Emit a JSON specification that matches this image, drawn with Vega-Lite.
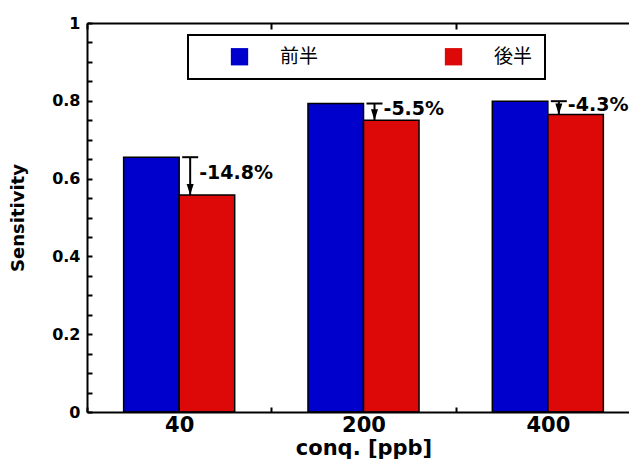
{
  "$schema": "https://vega.github.io/schema/vega-lite/v6.json",
  "width": 542,
  "height": 389,
  "autosize": "none",
  "padding": {"left": 87, "top": 23, "right": 0, "bottom": 50},
  "background": "white",
  "config": {"view": {"stroke": null}, "font": "DejaVu Sans", "legend": {"strokeWidth": 2}},
  "datasets": {
    "bars": [
      {"conc": "40", "series": "前半", "value": 0.655},
      {"conc": "40", "series": "後半", "value": 0.558},
      {"conc": "200", "series": "前半", "value": 0.793},
      {"conc": "200", "series": "後半", "value": 0.750},
      {"conc": "400", "series": "前半", "value": 0.799},
      {"conc": "400", "series": "後半", "value": 0.765}
    ],
    "notes": [
      {"conc": "40", "from": 0.655, "to": 0.558, "label": "-14.8%"},
      {"conc": "200", "from": 0.793, "to": 0.750, "label": "-5.5%"},
      {"conc": "400", "from": 0.799, "to": 0.765, "label": "-4.3%"}
    ]
  },
  "resolve": {"axis": {"x": "independent", "y": "independent"}},
  "layer": [
    {
      "data": {"name": "bars"},
      "mark": {"type": "bar", "stroke": "black", "strokeWidth": 1.5},
      "encoding": {
        "x": {
          "field": "conc", "type": "nominal",
          "scale": {"domain": ["40", "200", "400"], "range": [0, 553], "paddingInner": 0, "paddingOuter": 0},
          "axis": {
            "orient": "bottom", "tickBand": "extent", "tickSize": -5, "tickWidth": 2, "tickColor": "black",
            "domainWidth": 2, "domainColor": "black", "labelAngle": 0,
            "labelFont": "DejaVu Sans", "labelFontWeight": "bold", "labelFontSize": 21, "labelColor": "black",
            "labelPadding": 7, "title": "conq. [ppb]", "titleFont": "DejaVu Sans", "titleFontWeight": "bold",
            "titleFontSize": 21, "titleColor": "black", "titlePadding": 2, "zindex": 1
          }
        },
        "xOffset": {
          "field": "series", "type": "nominal",
          "scale": {"domain": ["前半", "後半"], "paddingInner": 0, "paddingOuter": 0.66}
        },
        "y": {
          "field": "value", "type": "quantitative",
          "scale": {"domain": [0, 1], "nice": false, "zero": true},
          "axis": {
            "orient": "left",
            "values": [0, 0.05, 0.1, 0.15, 0.2, 0.25, 0.3, 0.35, 0.4, 0.45, 0.5, 0.55, 0.6, 0.65, 0.7, 0.75, 0.8, 0.85, 0.9, 0.95, 1],
            "format": ".2~f",
            "labelExpr": "(datum.value * 5) % 1 < 0.01 || (datum.value * 5) % 1 > 0.99 ? datum.label : ''",
            "tickSize": -5, "tickWidth": 2, "tickColor": "black", "domain": true, "domainWidth": 2, "domainColor": "black",
            "grid": false, "labelFont": "DejaVu Sans", "labelFontWeight": "bold", "labelFontSize": 16,
            "labelColor": "black", "labelPadding": 12,
            "title": "Sensitivity", "titleFont": "DejaVu Sans", "titleFontWeight": "bold", "titleFontSize": 18,
            "titleColor": "black", "titlePadding": 24, "zindex": 1
          }
        },
        "color": {
          "field": "series", "type": "nominal",
          "scale": {"domain": ["前半", "後半"], "range": ["#0000cc", "#dd0808"]},
          "legend": {
            "orient": "none", "legendX": 101, "legendY": 12, "direction": "horizontal",
            "title": " ", "titleOrient": "left", "titleFontSize": 1, "titlePadding": 30,
            "symbolType": "square", "symbolSize": 300, "symbolStrokeWidth": 0, "symbolOpacity": 1,
            "labelFont": "Noto Sans CJK JP", "labelFontSize": 19, "labelOffset": 31,
            "columnPadding": 125, "padding": 12, "strokeColor": "black",
            "encode": {
              "legend": {"update": {"stroke": {"value": "black"}, "strokeWidth": {"value": 2}}},
              "labels": {"update": {"fill": {"signal": "datum.label === '前半' ? '#1a1acc' : '#dd1a1a'"}}}
            }
          }
        }
      }
    },
    {
      "data": {"name": "notes"},
      "mark": {"type": "rule", "strokeWidth": 2, "color": "black", "xOffset": 11},
      "encoding": {
        "x": {
          "field": "conc", "type": "nominal",
          "axis": {
            "orient": "top", "labels": false, "title": null, "tickBand": "extent", "tickSize": -6,
            "tickWidth": 2, "tickColor": "black", "domainWidth": 2, "domainColor": "black", "zindex": 1
          }
        },
        "y": {"field": "from", "type": "quantitative", "axis": null},
        "y2": {"field": "to"}
      }
    },
    {
      "data": {"name": "notes"},
      "mark": {"type": "tick", "orient": "horizontal", "size": 16, "thickness": 2, "color": "black", "xOffset": 11, "opacity": 1},
      "encoding": {
        "x": {"field": "conc", "type": "nominal", "axis": null},
        "y": {"field": "from", "type": "quantitative", "axis": null}
      }
    },
    {
      "data": {"name": "notes"},
      "mark": {"type": "point", "shape": "M-0.32,-1L0.32,-1L0,0Z", "size": 484, "filled": true, "color": "black", "opacity": 1, "xOffset": 11},
      "encoding": {
        "x": {"field": "conc", "type": "nominal", "axis": null},
        "y": {"field": "to", "type": "quantitative", "axis": null}
      }
    },
    {
      "data": {"name": "notes"},
      "transform": [{"fold": ["from", "to"], "as": ["k", "v"]}],
      "mark": {"type": "text", "align": "left", "baseline": "alphabetic", "dx": 20, "dy": 3, "font": "DejaVu Sans", "fontWeight": "bold", "fontSize": 19, "color": "black"},
      "encoding": {
        "x": {"field": "conc", "type": "nominal", "axis": null},
        "y": {"aggregate": "mean", "field": "v", "type": "quantitative", "axis": null},
        "text": {"field": "label", "type": "nominal"}
      }
    }
  ]
}
